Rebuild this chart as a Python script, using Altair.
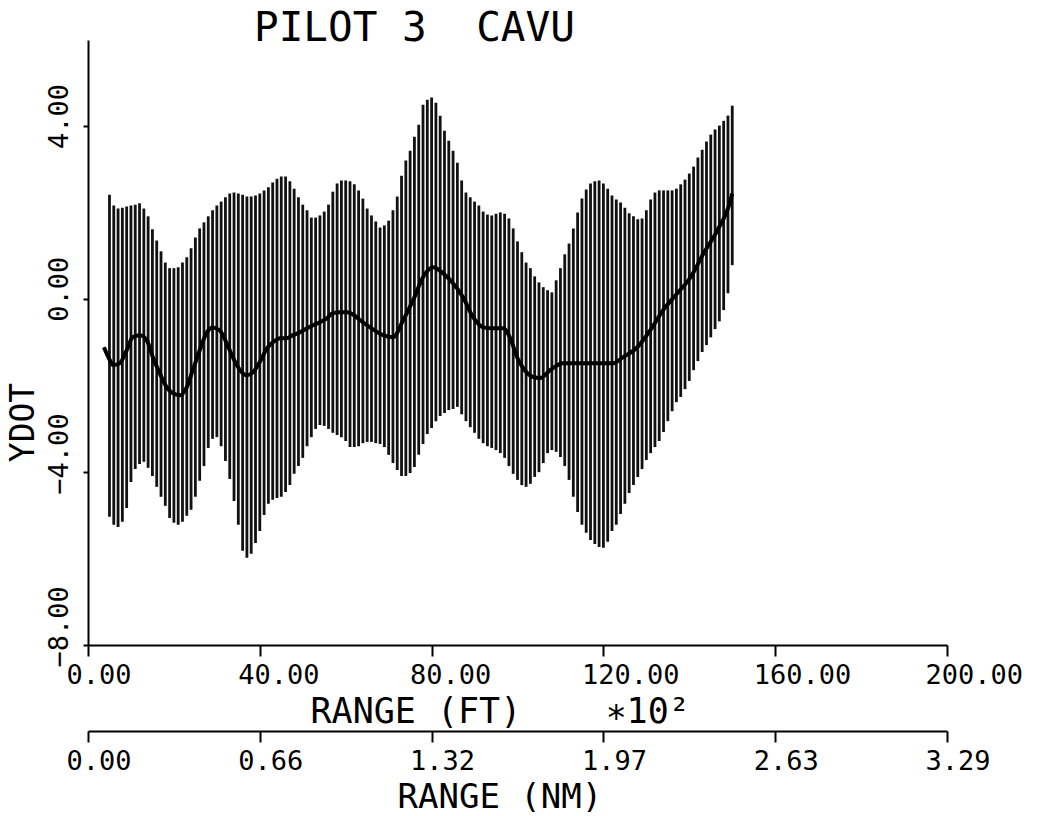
import json
import altair as alt
import pandas as pd

# ---------------- data ----------------
# range in hundreds of feet for each vertical bar
bar_range = list(range(5, 151))

bar_upper = [
    2.42, 2.17, 2.10, 2.12, 2.15, 2.17, 2.19, 2.22, 2.10, 1.92,
    1.62, 1.36, 1.11, 0.85, 0.72, 0.72, 0.74, 0.85, 0.97, 1.18,
    1.43, 1.64, 1.78, 1.92, 2.06, 2.17, 2.26, 2.36, 2.45, 2.47,
    2.45, 2.42, 2.38, 2.38, 2.40, 2.45, 2.52, 2.59, 2.70, 2.79,
    2.84, 2.84, 2.73, 2.56, 2.36, 2.19, 2.06, 1.89, 1.89, 1.94,
    2.03, 2.19, 2.49, 2.68, 2.75, 2.75, 2.73, 2.66, 2.52, 2.33,
    2.10, 1.94, 1.80, 1.66, 1.71, 1.82, 2.06, 2.38, 2.86, 3.21,
    3.44, 3.76, 4.04, 4.50, 4.62, 4.67, 4.55, 4.25, 3.90, 3.67,
    3.44, 3.16, 2.75, 2.47, 2.36, 2.26, 2.17, 2.03, 1.96, 1.94,
    1.98, 2.01, 1.98, 1.87, 1.64, 1.34, 1.09, 0.85, 0.72, 0.53,
    0.39, 0.28, 0.21, 0.16, 0.44, 0.72, 1.04, 1.29, 1.64, 2.01,
    2.33, 2.54, 2.68, 2.73, 2.75, 2.68, 2.56, 2.40, 2.31, 2.24,
    2.12, 1.99, 1.92, 1.85, 1.87, 2.06, 2.31, 2.47, 2.52, 2.52,
    2.52, 2.52, 2.56, 2.66, 2.77, 2.91, 3.07, 3.28, 3.46, 3.65,
    3.81, 3.93, 4.02, 4.13, 4.25, 4.48,
]

bar_lower = [
    -5.03, -5.22, -5.27, -5.15, -4.83, -4.23, -3.93, -3.81, -3.76, -3.90,
    -4.09, -4.34, -4.57, -4.78, -5.06, -5.17, -5.22, -5.15, -5.01, -4.87,
    -4.57, -4.20, -3.86, -3.44, -3.23, -3.19, -3.40, -3.74, -4.16, -4.67,
    -5.22, -5.82, -5.98, -5.89, -5.64, -5.36, -4.99, -4.73, -4.64, -4.60,
    -4.57, -4.46, -4.30, -4.04, -3.86, -3.67, -3.40, -3.19, -3.00, -2.91,
    -2.93, -3.00, -3.09, -3.14, -3.19, -3.28, -3.42, -3.42, -3.40, -3.33,
    -3.30, -3.30, -3.33, -3.35, -3.42, -3.60, -3.79, -3.95, -4.09, -4.09,
    -4.02, -3.88, -3.60, -3.35, -3.12, -2.98, -2.82, -2.70, -2.63, -2.56,
    -2.54, -2.49, -2.66, -2.82, -2.96, -3.09, -3.23, -3.33, -3.40, -3.44,
    -3.49, -3.56, -3.67, -3.86, -4.04, -4.18, -4.30, -4.34, -4.27, -4.11,
    -4.00, -3.79, -3.56, -3.49, -3.53, -3.65, -3.86, -4.18, -4.57, -4.92,
    -5.22, -5.40, -5.57, -5.66, -5.73, -5.75, -5.61, -5.36, -5.22, -4.97,
    -4.73, -4.48, -4.30, -4.11, -3.93, -3.72, -3.56, -3.42, -3.28, -3.07,
    -2.82, -2.59, -2.38, -2.26, -2.08, -1.89, -1.64, -1.43, -1.22, -1.06,
    -0.88, -0.69, -0.51, -0.25, 0.14, 0.79,
]

mean_range = [
    3.7, 5.1, 5.8, 7.4, 9.0, 10.4, 12.1, 13.7, 15.1, 16.7, 18.3, 19.7, 21.4,
    23.0, 24.4, 26.0, 27.7, 29.1, 30.7, 32.3, 33.7, 35.4, 37.0, 38.4, 40.0,
    41.7, 43.1, 44.7, 46.3, 47.7, 49.4, 51.0, 52.4, 54.0, 55.6, 57.0, 58.7,
    60.3, 61.7, 63.3, 65.7, 68.7, 71.0, 73.4, 75.7, 78.0, 80.3, 82.7, 85.0,
    87.3, 89.7, 92.0, 94.3, 96.7, 98.3, 99.9, 101.3, 103.7, 105.3, 107.6,
    110.6, 115.3, 119.9, 122.3, 124.6, 127.9, 130.9, 133.9, 137.2, 140.3,
    143.3, 146.5, 149.6, 150.0,
]
mean_value = [
    -1.11, -1.41, -1.52, -1.48, -1.18, -0.88, -0.83, -0.95, -1.34, -1.71,
    -2.03, -2.17, -2.22, -2.03, -1.64, -1.18, -0.76, -0.65, -0.72, -1.02,
    -1.34, -1.64, -1.76, -1.69, -1.45, -1.13, -0.99, -0.90, -0.90, -0.83,
    -0.76, -0.67, -0.60, -0.53, -0.44, -0.32, -0.30, -0.30, -0.35, -0.48,
    -0.65, -0.83, -0.88, -0.48, -0.02, 0.51, 0.74, 0.60, 0.37, 0.05,
    -0.42, -0.65, -0.67, -0.67, -0.90, -1.34, -1.59, -1.80, -1.82, -1.64,
    -1.48, -1.48, -1.48, -1.48, -1.34, -1.11, -0.72, -0.25, 0.14, 0.51,
    1.06, 1.59, 2.29, 2.45,
]

ft_ticks = [0, 40, 80, 120, 160, 200]
nm_tick_labels = ["0.00", "0.66", "1.32", "1.97", "2.63", "3.29"]
y_ticks = [-8, -4, 0, 4]

NBSP = "\u00a0"
title_text = "PILOT" + NBSP + "3" + NBSP * 2 + "CAVU"
ft_title = "RANGE" + NBSP + "(FT)" + NBSP * 4 + "\u221710\u00b2"
nm_title = "RANGE" + NBSP + "(NM)"

# ---------------- chart ----------------
FONT = "DejaVu Sans Mono"

bars_df = pd.DataFrame({"r": bar_range, "lo": bar_lower, "hi": bar_upper})
mean_df = pd.DataFrame({"r": mean_range, "v": mean_value})

xscale = alt.Scale(domain=[0, 200], nice=False, zero=False)
yscale = alt.Scale(domain=[-8, 6], nice=False, zero=False)

ft_axis = alt.Axis(
    values=ft_ticks, format=".2f", orient="bottom", grid=False,
    tickSize=11, tickWidth=2, domainWidth=2,
    labelFont=FONT, labelFontSize=27, labelAlign="left", labelBaseline="alphabetic",
    labelOffset=-22, labelPadding=27, labelFlush=False, labelOverlap=False, labelBound=False,
    title=ft_title, titleFont=FONT, titleFontSize=35,
    titleFontWeight="normal", titleAlign="left", titleBaseline="alphabetic",
    titleX=222, titleY=77, titleAnchor="start",
)

nm_expr = json.dumps(nm_tick_labels) + "[indexof(" + json.dumps(ft_ticks) + ", datum.value)]"
nm_axis = alt.Axis(
    values=ft_ticks, labelExpr=nm_expr, orient="bottom", offset=86, grid=False,
    tickSize=11, tickWidth=2, domainWidth=2,
    labelFont=FONT, labelFontSize=27, labelAlign="left", labelBaseline="alphabetic",
    labelOffset=-22, labelPadding=27, labelFlush=False, labelOverlap=False, labelBound=False,
    title=nm_title, titleFont=FONT, titleFontSize=34,
    titleFontWeight="normal", titleAlign="left", titleBaseline="alphabetic",
    titleX=309, titleY=76, titleAnchor="start",
)

y_axis = alt.Axis(
    values=y_ticks, format=".2f", orient="left", grid=False,
    tickSize=5, tickWidth=2, domainWidth=2,
    labelFont=FONT, labelFontSize=27, labelAngle=270, labelAlign="left",
    labelBaseline="alphabetic", labelOffset=22, labelPadding=16,
    labelFlush=False, labelOverlap=False, labelBound=False,
    title="YDOT", titleFont=FONT, titleFontSize=33, titleFontWeight="normal",
    titleAngle=270, titleAlign="center", titleBaseline="alphabetic",
    titleX=-55, titleY=382,
)

bars = alt.Chart(bars_df).mark_rule(color="#111111", strokeWidth=2.8).encode(
    x=alt.X("r:Q", scale=xscale, axis=ft_axis),
    y=alt.Y("lo:Q", scale=yscale, axis=y_axis),
    y2="hi:Q",
)

mean = alt.Chart(mean_df).mark_line(
    color="black", strokeWidth=4, interpolate="monotone"
).encode(
    x=alt.X("r:Q", scale=xscale, axis=nm_axis),
    y=alt.Y("v:Q", scale=yscale, axis=None),
)

chart = (
    alt.layer(bars, mean)
    .resolve_axis(x="independent", y="independent")
    .properties(
        width=859,
        height=605,
        padding={"left": 88, "top": 40, "right": 92, "bottom": 171},
        autosize=alt.AutoSizeParams(type="none"),
        background="white",
        title=alt.TitleParams(
            text=title_text, font=FONT, fontSize=41, fontWeight="normal",
            anchor="start", frame="group", dx=166, dy=42, offset=0,
            baseline="alphabetic", color="black",
        ),
    )
    .configure_view(stroke=None)
    .configure_axis(
        domainColor="black", tickColor="black", labelColor="black", titleColor="black"
    )
)

chart.save("out.html", embed_options={"renderer": "svg", "actions": False})
